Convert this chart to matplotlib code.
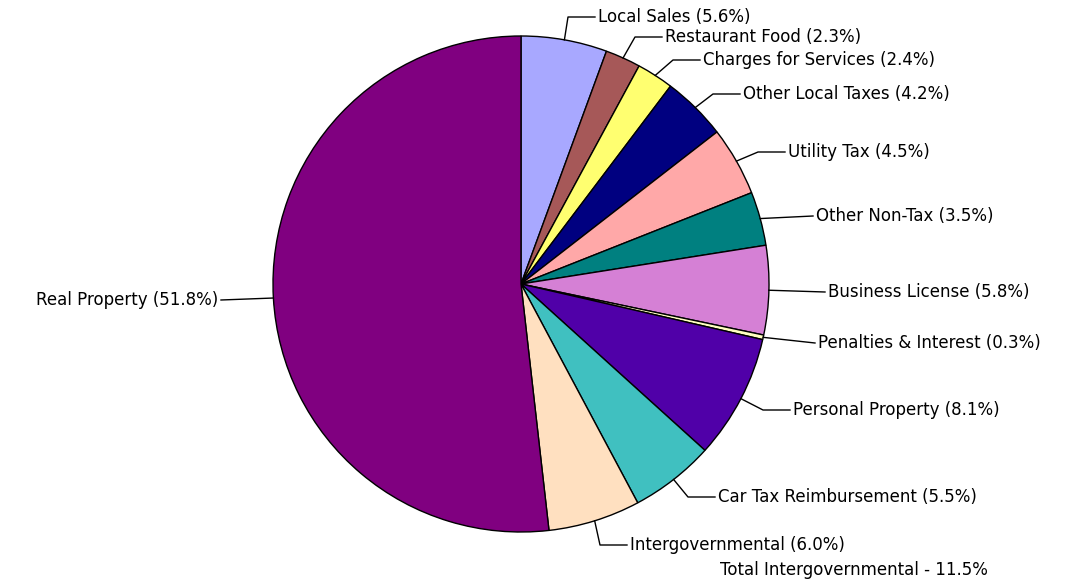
import numpy as np
import matplotlib
matplotlib.use('Agg')
import matplotlib.pyplot as plt

# slice data, clockwise from 12 o'clock
categories = ['Local Sales', 'Restaurant Food', 'Charges for Services', 'Other Local Taxes',
              'Utility Tax', 'Other Non-Tax', 'Business License', 'Penalties & Interest',
              'Personal Property', 'Car Tax Reimbursement', 'Intergovernmental', 'Real Property']
shares = [5.6, 2.3, 2.4, 4.2, 4.5, 3.5, 5.8, 0.3, 8.1, 5.5, 6.0, 51.8]
colors = ['#A8A8FF', '#A65858', '#FFFF70', '#000080', '#FFA8A8', '#008080',
          '#D580D5', '#FFFFC0', '#5000A8', '#40C0C0', '#FFE0C0', '#800080']

# label anchor positions in pixels (left edge of text / vertical centre)
label_pos = [(598, 17), (665, 37), (703, 60), (743, 94), (788, 152), (816, 216),
             (828, 292), (818, 343), (793, 410), (718, 497), (630, 545), (218, 300)]

W, H = 1071, 584
cx, cy, r = 521, 284, 248
fs = 12

fig = plt.figure(figsize=(W / 100, H / 100), dpi=100)
ax = fig.add_axes([0, 0, 1, 1])

ax.pie(shares, colors=colors, startangle=90, counterclock=False,
       center=(cx, H - cy), radius=r,
       wedgeprops={'edgecolor': 'black', 'linewidth': 1.0})

cum = 0
for name, v, (tx, ty) in zip(categories, shares, label_pos):
    theta = np.radians(90 - 360 * (cum + v / 2) / 100)
    cum += v
    ex = cx + r * np.cos(theta)
    ey = cy - r * np.sin(theta)
    text = f'{name} ({v:.1f}%)'
    if tx < cx:
        ax.plot([ex, tx + 3], [H - ey, H - ty], color='black', lw=1.0)
        ax.text(tx, H - ty, text, ha='right', va='center', fontsize=fs)
    else:
        if abs(ty - ey) < 6:
            xs, ys = [ex, tx - 3], [ey, ty]
        else:
            xs, ys = [ex, tx - 30, tx - 3], [ey, ty, ty]
        ax.plot(xs, [H - y for y in ys], color='black', lw=1.0)
        ax.text(tx, H - ty, text, ha='left', va='center', fontsize=fs)

ax.text(720, H - 570, 'Total Intergovernmental - 11.5%', ha='left', va='center', fontsize=fs)

ax.set_xlim(0, W)
ax.set_ylim(0, H)
ax.set_aspect('equal')
ax.axis('off')

fig.savefig('out.png', dpi=100)
